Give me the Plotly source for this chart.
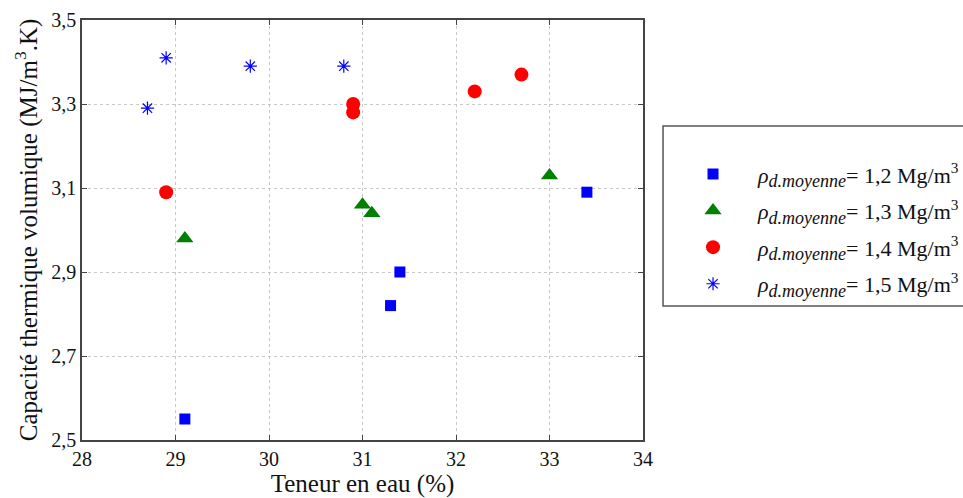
import plotly.graph_objects as go

# Data
x_12 = [29.1, 31.3, 31.4, 33.4]
y_12 = [2.55, 2.82, 2.90, 3.09]
x_13 = [29.1, 31.0, 31.1, 33.0]
y_13 = [2.98, 3.06, 3.04, 3.13]
x_14 = [28.9, 30.9, 30.9, 32.2, 32.7]
y_14 = [3.09, 3.30, 3.28, 3.33, 3.37]
x_15 = [28.7, 28.9, 29.8, 30.8]
y_15 = [3.29, 3.41, 3.39, 3.39]

x_ticks = [28, 29, 30, 31, 32, 33, 34]
x_ticktext = ["28", "29", "30", "31", "32", "33", "34"]
y_ticks = [2.5, 2.7, 2.9, 3.1, 3.3, 3.5]
y_ticktext = ["2,5", "2,7", "2,9", "3,1", "3,3", "3,5"]

densities = ["1,2", "1,3", "1,4", "1,5"]
labels = ["<i>ρ</i><sub><span style='font-size:18px'><i>d.moyenne</i></span></sub>= "
          + d + " Mg/m<sup>3</sup>" for d in densities]

fig = go.Figure()
fig.add_trace(go.Scatter(x=x_12, y=y_12, mode="markers", name=labels[0], legendgroup="a",
                         marker=dict(symbol="square", size=11, color="#0000ff")))
fig.add_trace(go.Scatter(x=x_13, y=y_13, mode="markers", name=labels[1], legendgroup="b",
                         marker=dict(symbol="triangle-up", size=15, color="#008000")))
fig.add_trace(go.Scatter(x=x_14, y=y_14, mode="markers", name=labels[2], legendgroup="c",
                         marker=dict(symbol="circle", size=14, color="#ff0000")))
fig.add_trace(go.Scatter(x=x_15, y=y_15, mode="markers", name=labels[3], legendgroup="d",
                         marker=dict(symbol="asterisk-open", size=11, color="#0000ff",
                                     line=dict(color="#0000ff", width=1.2))))

axis_common = dict(
    showline=True, linecolor="#444", linewidth=1.5, mirror="ticks",
    ticks="inside", ticklen=5, tickcolor="#444",
    showgrid=True, gridcolor="#c8c8c8", griddash="dot", gridwidth=1,
    zeroline=False,
    tickfont=dict(family="Liberation Serif", size=20, color="#111"),
)

fig.update_xaxes(range=[28, 34], tickvals=x_ticks, ticktext=x_ticktext,
                 title=dict(text="Teneur en eau (%)", standoff=3,
                            font=dict(family="Liberation Serif", size=25, color="#111")),
                 **axis_common)
fig.update_yaxes(range=[2.5, 3.5], tickvals=y_ticks, ticktext=y_ticktext,
                 title=dict(text="Capacité thermique volumique (MJ/m<sup>3</sup>.K)", standoff=7,
                            font=dict(family="Liberation Serif", size=25, color="#111")),
                 **axis_common)

# legend frame
fig.add_shape(type="rect", xref="paper", yref="paper",
              x0=1.0357, x1=1.58, y0=0.319, y1=0.7476,
              line=dict(color="#555", width=1.5), fillcolor="rgba(0,0,0,0)")

fig.update_layout(
    width=963, height=498,
    margin=dict(l=82, r=320, t=20, b=58, autoexpand=False),
    plot_bgcolor="white", paper_bgcolor="white",
    font=dict(family="Liberation Serif", color="#111"),
    legend=dict(x=1.0446, y=0.683, xanchor="left", yanchor="top",
                bgcolor="rgba(0,0,0,0)", borderwidth=0,
                font=dict(family="Liberation Serif", size=22, color="#111"),
                itemwidth=80, tracegroupgap=5),
)

fig.write_html("out.html", config={"displayModeBar": False},
               post_script="document.body.style.margin='0px';document.body.style.overflow='hidden';")
